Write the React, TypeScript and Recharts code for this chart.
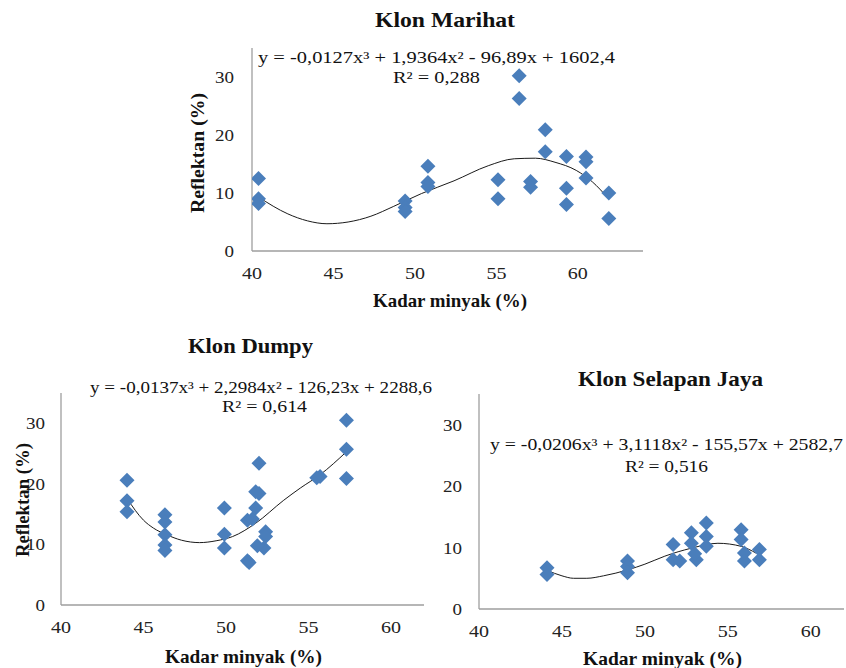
import React from "react";
import { ComposedChart, Scatter, Line, XAxis, YAxis } from "recharts";

// Klon Marihat: titik pengamatan [kadar minyak, reflektan]
const marihatPoints = [
  [40.4, 12.5], [40.4, 9.0], [40.4, 8.2], [49.4, 8.6], [49.4, 7.5], [49.4, 6.8],
  [50.8, 14.6], [50.8, 11.8], [50.8, 11.1], [55.1, 12.3], [55.1, 9.0], [56.4, 30.2],
  [56.4, 26.3], [57.1, 12.0], [57.1, 11.0], [58.0, 20.9], [58.0, 17.1], [59.3, 16.3],
  [59.3, 10.8], [59.3, 8.0], [60.5, 16.2], [60.5, 15.4], [60.5, 12.6], [61.9, 10.0],
  [61.9, 5.6],
];
// garis tren
const marihatTrend = [
  [40.4, 9.3], [42.2, 6.4], [43.4, 5.2], [44.6, 4.7], [45.9, 5.0], [47.3, 6.0],
  [48.7, 7.7], [50.4, 9.9], [52.4, 12.1], [54.5, 14.7], [56.1, 15.9], [57.4, 16.0],
  [58.6, 15.3], [59.9, 13.9], [60.9, 11.9], [61.8, 9.3],
];

const dumpyPoints = [
  [44.0, 20.6], [44.0, 17.2], [44.0, 15.4], [46.3, 14.9], [46.3, 13.7], [46.3, 11.6],
  [46.3, 9.9], [46.3, 9.0], [49.9, 16.0], [49.9, 11.7], [49.9, 9.4], [51.3, 7.3],
  [51.4, 7.0], [51.3, 14.0], [51.6, 14.2], [51.8, 16.0], [51.8, 18.7], [52.0, 18.4],
  [52.0, 23.4], [52.4, 12.1], [52.4, 11.3], [52.3, 9.4], [51.9, 9.8], [55.7, 21.2],
  [55.5, 21.0], [57.3, 30.5], [57.3, 25.7], [57.3, 20.9],
];
const dumpyTrend = [
  [44.0, 17.6], [45.0, 14.0], [45.6, 12.7], [46.4, 11.6], [47.3, 10.7], [48.4, 10.3],
  [49.4, 10.6], [50.4, 11.3], [51.8, 13.5], [53.5, 17.3], [54.5, 19.3], [55.7, 21.5],
  [57.3, 25.3],
];

const selapanPoints = [
  [44.1, 6.7], [44.1, 5.6], [48.95, 7.8], [48.95, 6.9], [48.95, 5.9], [51.7, 10.5],
  [51.7, 8.0], [52.1, 7.8], [52.8, 12.4], [52.8, 10.7], [53.1, 8.0], [53.0, 9.0],
  [53.7, 14.0], [53.7, 11.8], [53.7, 10.2], [55.8, 12.9], [55.8, 11.3], [56.0, 9.1],
  [56.0, 7.8], [56.9, 9.7], [56.9, 8.0],
];
const selapanTrend = [
  [44.1, 6.3], [45.0, 5.4], [45.7, 5.0], [46.5, 5.0], [47.5, 5.4], [49.0, 6.4],
  [50.0, 7.3], [51.2, 8.6], [52.8, 9.9], [54.4, 10.7], [55.8, 10.2], [56.7, 9.1],
];

const xTicks = [40, 45, 50, 55, 60];
const yTicks = [0, 10, 20, 30];

const font = '"Liberation Serif", "Times New Roman", serif';
const blue = "#4A7EBB";
const axisGray = "#9e9e9e";

const toXY = (rows: number[][]) => rows.map(([x, y]) => ({ x, y }));

const Diamond = (props: any) => {
  const { cx, cy } = props;
  if (cx == null || cy == null) return <g />;
  return (
    <path
      d={`M${cx},${cy - 7.5} L${cx + 7.5},${cy} L${cx},${cy + 7.5} L${cx - 7.5},${cy} Z`}
      fill={blue}
    />
  );
};

// label sumbu agak melebar seperti di gambar asli
const XTick = (props: any) => {
  const { x, y, payload } = props;
  const s = String(payload.value);
  return (
    <text x={x} y={y} dy="0.71em" textAnchor="middle" fontSize={17} fontFamily={font} fill="#222"
      textLength={s.length * 10} lengthAdjust="spacingAndGlyphs">
      {s}
    </text>
  );
};

const YTick = (props: any) => {
  const { x, y, payload } = props;
  const s = String(payload.value);
  return (
    <text x={x} y={y} dy="0.355em" textAnchor="end" fontSize={17} fontFamily={font} fill="#222"
      textLength={s.length * 9.5} lengthAdjust="spacingAndGlyphs">
      {s}
    </text>
  );
};

type PanelProps = {
  left: number;
  top: number;
  width: number;
  height: number;
  margin: { top: number; right: number; bottom: number; left: number };
  yWidth: number;
  xMax: number;
  yMargin: number;
  points: number[][];
  trend: number[][];
};

const Panel = ({ left, top, width, height, margin, yWidth, xMax, yMargin, points, trend }: PanelProps) => (
  <div style={{ position: "absolute", left, top }}>
    <ComposedChart width={width} height={height} margin={margin}>
      <XAxis
        type="number"
        dataKey="x"
        domain={[40, xMax]}
        ticks={xTicks}
        allowDataOverflow
        height={40}
        tickSize={0}
        tickLine={false}
        tickMargin={16}
        axisLine={{ stroke: axisGray, strokeWidth: 1.3 }}
        tick={<XTick />}
      />
      <YAxis
        type="number"
        dataKey="y"
        domain={[0, 35]}
        ticks={yTicks}
        width={yWidth}
        tickSize={0}
        tickLine={false}
        tickMargin={yMargin}
        axisLine={{ stroke: axisGray, strokeWidth: 1.3 }}
        tick={<YTick />}
      />
      <Scatter data={toXY(points)} dataKey="y" shape={<Diamond />} isAnimationActive={false} />
      <Line
        data={toXY(trend)}
        dataKey="y"
        type="monotone"
        stroke="#1a1a1a"
        strokeWidth={1}
        dot={false}
        activeDot={false}
        isAnimationActive={false}
      />
    </ComposedChart>
  </div>
);

const T = ({
  x, y, w, size = 16, bold = false, rotate = false, children,
}: {
  x: number; y: number; w: number; size?: number; bold?: boolean; rotate?: boolean; children: string;
}) => (
  <text
    x={x}
    y={y}
    textAnchor="middle"
    dominantBaseline="central"
    fontFamily={font}
    fontSize={size}
    fontWeight={bold ? 700 : 400}
    fill="#111"
    textLength={w}
    lengthAdjust="spacingAndGlyphs"
    transform={rotate ? `rotate(-90 ${x} ${y})` : undefined}
  >
    {children}
  </text>
);

export default function App() {
  return (
    <div
      style={{
        position: "absolute",
        left: 0,
        top: 0,
        width: 846,
        height: 668,
        overflow: "hidden",
        background: "#fff",
      }}
    >
      <Panel
        left={150}
        top={0}
        width={500}
        height={320}
        margin={{ top: 48, right: 7, bottom: 29, left: 0 }}
        yWidth={102}
        xMax={64}
        yMargin={18}
        points={marihatPoints}
        trend={marihatTrend}
      />
      <Panel
        left={0}
        top={330}
        width={430}
        height={338}
        margin={{ top: 63, right: 6, bottom: 23, left: 0 }}
        yWidth={61}
        xMax={62}
        yMargin={16}
        points={dumpyPoints}
        trend={dumpyTrend}
      />
      <Panel
        left={430}
        top={360}
        width={416}
        height={308}
        margin={{ top: 34, right: 2, bottom: 19, left: 0 }}
        yWidth={49}
        xMax={62}
        yMargin={17}
        points={selapanPoints}
        trend={selapanTrend}
      />

      <svg width={846} height={668} style={{ position: "absolute", left: 0, top: 0, pointerEvents: "none" }}>
        <T x={445} y={20} w={140} size={21} bold>Klon Marihat</T>
        <T x={436.5} y={57} w={357}>y = -0,0127x³ + 1,9364x² - 96,89x + 1602,4</T>
        <T x={436.5} y={77} w={87}>R² = 0,288</T>
        <T x={197} y={153} w={120} size={19} bold rotate>Reflektan (%)</T>
        <T x={450} y={300} w={154} size={19} bold>Kadar minyak (%)</T>

        <T x={250.5} y={346} w={125} size={21} bold>Klon Dumpy</T>
        <T x={261} y={387} w={342}>y = -0,0137x³ + 2,2984x² - 126,23x + 2288,6</T>
        <T x={264.5} y={406} w={85}>R² = 0,614</T>
        <T x={22} y={500} w={114} size={19} bold rotate>Reflektan (%)</T>
        <T x={243.5} y={656} w={157} size={19} bold>Kadar minyak (%)</T>

        <T x={670.5} y={379} w={185} size={21} bold>Klon Selapan Jaya</T>
        <T x={666.5} y={444} w={353}>y = -0,0206x³ + 3,1118x² - 155,57x + 2582,7</T>
        <T x={666.5} y={466} w={83}>R² = 0,516</T>
        <T x={662.5} y={658} w={159} size={19} bold>Kadar minyak (%)</T>
      </svg>
    </div>
  );
}
